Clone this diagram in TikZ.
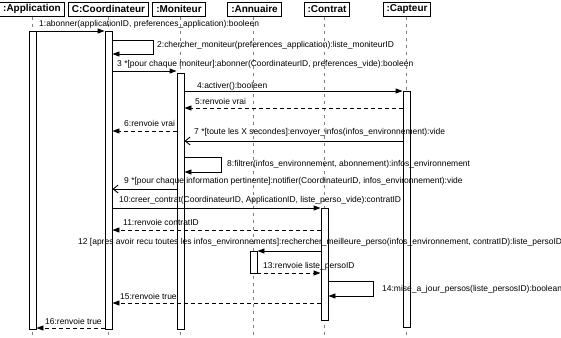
\documentclass[tikz,border=0pt]{standalone}
\usepackage{fontspec}
\setmainfont{Liberation Sans}
\usetikzlibrary{arrows.meta, fit}

\begin{document}
\begin{tikzpicture}[x=1bp, y=-1bp,
		head/.style={draw, line width=1bp, inner xsep=3.4bp, inner ysep=0bp, minimum height=14bp, font=\bfseries\fontsize{10}{12}\selectfont},
		bar/.style={draw, fill=white, line width=0.9bp, inner sep=0pt},
		lifeline/.style={gray, line width=0.8bp, dash pattern=on 3bp off 4bp},
		msg/.style={line width=0.9bp, -{Triangle[length=7bp,width=5bp]}},
		async/.style={line width=0.9bp, -{Straight Barb[length=5bp,width=8bp]}},
		ret/.style={msg, dash pattern=on 4bp off 3bp},
		lbl/.style={anchor=west, inner sep=0pt, font=\fontsize{8.5}{10}\selectfont}]
		
		% Frame
		\useasboundingbox (0,0) rectangle (561,337);
		\clip (0,0) rectangle (561,337);
		
		% Objects
		\node[head] (app) at (32,9) {:Application};
		\node[head] (coord) at (108.5,9) {C:Coordinateur};
		\node[head] (mon) at (179,9) {:Moniteur};
		\node[head] (ann) at (254.5,9) {:Annuaire};
		\node[head] (con) at (327,9) {:Contrat};
		\node[head] (cap) at (407,9) {:Capteur};
		
		% Lifelines
		\foreach \n/\x in {app/32.5, coord/108.5, mon/180.5, ann/253.5, con/324.5, cap/406.5} {
			\draw[lifeline] (\n.south -| \x,0) -- (\x,336);
		}
		
		% Activation bars
		\node[bar, fit={(29,31) (36,329)}] (appbar) {};
		\node[bar, fit={(105,31) (112,329)}] (coordbar) {};
		\node[bar, fit={(177,73) (184,329)}] (monbar) {};
		\node[bar, fit={(250,251) (257,273)}] (annbar) {};
		\node[bar, fit={(321,208) (328,320)}] (conbar) {};
		\node[bar, fit={(403,91) (410,327)}] (capbar) {};
		
		% Messages
		\draw[msg] (appbar.east |- 0,31) -- (coordbar.west |- 0,31);
		\node[lbl] (l1) at (39,24) {1:abonner(applicationID, preferences\_application):booleen};
		
		\draw[msg] (coordbar.east |- 0,40) -| (153,54) -- (coordbar.east |- 0,54);
		\node[lbl] (l2) at (157,45) {2:chercher\_moniteur(preferences\_application):liste\_moniteurID};
		
		\draw[msg] (coordbar.east |- 0,71) -- (monbar.west |- 0,71);
		\node[lbl] (l3) at (117,64) {3 *[pour chaque moniteur]:abonner(CoordinateurID, preferences\_vide):booleen};
		
		\draw[msg] (monbar.east |- 0,91) -- (capbar.west |- 0,91);
		\node[lbl] (l4) at (197,86) {4:activer():booleen};
		
		\draw[ret] (capbar.west |- 0,108) -- (monbar.east |- 0,108);
		\node[lbl] (l5) at (195,101) {5:renvoie vrai};
		
		\draw[ret] (monbar.west |- 0,131) -- (coordbar.east |- 0,131);
		\node[lbl] (l6) at (124,123) {6:renvoie vrai};
		
		\draw[async] (capbar.west |- 0,141) -- (monbar.east |- 0,141);
		\node[lbl] (l7) at (194,132) {7 *[toute les X secondes]:envoyer\_infos(infos\_environnement):vide};
		
		\draw[msg] (monbar.east |- 0,157) -| (221,172) -- (monbar.east |- 0,172);
		\node[lbl] (l8) at (227,164) {8:filtrer(infos\_environnement, abonnement):infos\_environnement};
		
		\draw[async] (monbar.west |- 0,189) -- (coordbar.east |- 0,189);
		\node[lbl] (l9) at (124,181) {9 *[pour chaque information pertinente]:notifier(CoordinateurID, infos\_environnement):vide};
		
		\draw[msg] (coordbar.east |- 0,208) -- (conbar.west |- 0,208);
		\node[lbl] (l10) at (119,200) {10:creer\_contrat(CoordinateurID, ApplicationID, liste\_perso\_vide):contratID};
		
		\draw[ret] (conbar.west |- 0,230) -- (coordbar.east |- 0,230);
		\node[lbl] (l11) at (123,222) {11:renvoie contratID};
		
		\draw[msg] (conbar.west |- 0,251) -- (annbar.east |- 0,251);
		\node[lbl] (l12) at (78,242) {12 [apres avoir recu toutes les infos\_environnements]:rechercher\_meilleure\_perso(infos\_environnement, contratID):liste\_persoID};
		
		\draw[ret] (annbar.east |- 0,273) -- (conbar.west |- 0,273);
		\node[lbl] (l13) at (263,266) {13:renvoie liste\_persoID};
		
		\draw[msg] (conbar.east |- 0,281) -| (373,296) -- (conbar.east |- 0,296);
		\node[lbl] (l14) at (382,289) {14:mise\_a\_jour\_persos(liste\_persosID):boolean};
		
		\draw[ret] (conbar.west |- 0,303) -- (coordbar.east |- 0,303);
		\node[lbl] (l15) at (120,296) {15:renvoie true};
		
		\draw[ret] (coordbar.west |- 0,328) -- (appbar.east |- 0,328);
		\node[lbl] (l16) at (45,321) {16:renvoie true};
		
	\end{tikzpicture}
\end{document}
